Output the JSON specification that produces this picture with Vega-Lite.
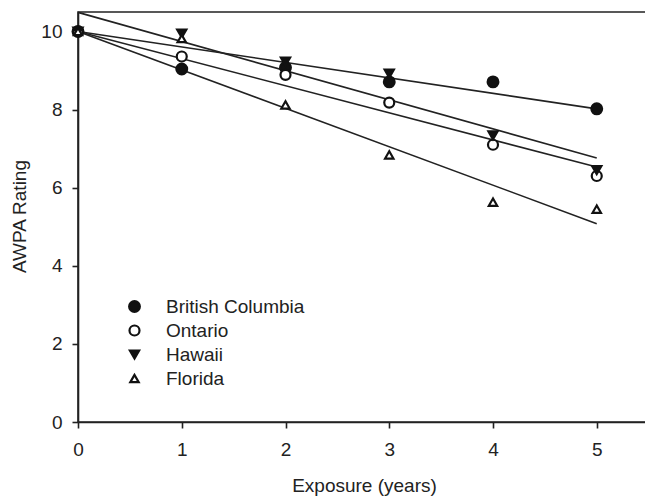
{
  "$schema": "https://vega.github.io/schema/vega-lite/v6.json",
  "width": 581,
  "height": 410,
  "autosize": {"type": "none"},
  "padding": {"left": 78, "top": 12, "right": 0, "bottom": 74},
  "background": "white",
  "config": {
    "font": "Liberation Sans",
    "view": {"stroke": "#222", "strokeWidth": 1.6},
    "axis": {
      "domainColor": "#222", "domainWidth": 1.6,
      "tickColor": "#222", "tickWidth": 1.6, "tickSize": 6,
      "labelFontSize": 19, "labelColor": "#222",
      "titleFontSize": 19, "titleFontWeight": "normal", "titleColor": "#222",
      "grid": false
    },
    "legend": {
      "orient": "none", "legendX": 47, "legendY": 285,
      "labelFontSize": 19, "labelColor": "#222",
      "rowPadding": 4, "symbolOffset": 0, "labelOffset": 22, "padding": 0,
      "symbolStrokeColor": "#111", "symbolStrokeWidth": 2.2
    }
  },
  "datasets": {
    "points": [
      {"site": "British Columbia", "year": 0, "rating": 10},
      {"site": "British Columbia", "year": 1, "rating": 9.04},
      {"site": "British Columbia", "year": 2, "rating": 9.08},
      {"site": "British Columbia", "year": 3, "rating": 8.71},
      {"site": "British Columbia", "year": 4, "rating": 8.71},
      {"site": "British Columbia", "year": 5, "rating": 8.02},
      {"site": "Ontario", "year": 0, "rating": 10},
      {"site": "Ontario", "year": 1, "rating": 9.36},
      {"site": "Ontario", "year": 2, "rating": 8.89},
      {"site": "Ontario", "year": 3, "rating": 8.18},
      {"site": "Ontario", "year": 4, "rating": 7.1},
      {"site": "Ontario", "year": 5, "rating": 6.3},
      {"site": "Hawaii", "year": 0, "rating": 10},
      {"site": "Hawaii", "year": 1, "rating": 9.95},
      {"site": "Hawaii", "year": 2, "rating": 9.23},
      {"site": "Hawaii", "year": 3, "rating": 8.92},
      {"site": "Hawaii", "year": 4, "rating": 7.34},
      {"site": "Hawaii", "year": 5, "rating": 6.45},
      {"site": "Florida", "year": 0, "rating": 10},
      {"site": "Florida", "year": 1, "rating": 9.82},
      {"site": "Florida", "year": 2, "rating": 8.12},
      {"site": "Florida", "year": 3, "rating": 6.84},
      {"site": "Florida", "year": 4, "rating": 5.63},
      {"site": "Florida", "year": 5, "rating": 5.45}
    ],
    "fits": [
      {"site": "British Columbia", "year": 0, "rating": 10},
      {"site": "British Columbia", "year": 5, "rating": 8.02},
      {"site": "Ontario", "year": 0, "rating": 10},
      {"site": "Ontario", "year": 5, "rating": 6.53},
      {"site": "Hawaii", "year": 0, "rating": 10.49},
      {"site": "Hawaii", "year": 5, "rating": 6.76},
      {"site": "Florida", "year": 0, "rating": 10},
      {"site": "Florida", "year": 5, "rating": 5.08}
    ]
  },
  "encoding": {
    "x": {
      "field": "year", "type": "quantitative",
      "scale": {"domain": [0, 5.6], "nice": false, "zero": false},
      "axis": {"values": [0, 1, 2, 3, 4, 5], "labelPadding": 12, "labelFlush": false, "title": "Exposure (years)",
               "titleX": 286, "titleY": 54, "titleBaseline": "top", "titleAlign": "center"}
    },
    "y": {
      "field": "rating", "type": "quantitative",
      "scale": {"domain": [0, 10.5], "nice": false},
      "axis": {"values": [0, 2, 4, 6, 8, 10], "labelPadding": 10, "labelFlush": false, "title": "AWPA Rating",
               "titleX": -49, "titleY": 204, "titleBaseline": "bottom", "titleAlign": "center", "titleAngle": -90}
    }
  },
  "layer": [
    {
      "data": {"name": "fits"},
      "mark": {"type": "line", "stroke": "#222", "strokeWidth": 1.6},
      "encoding": {"detail": {"field": "site"}}
    },
    {
      "data": {"name": "points"},
      "mark": {"type": "point", "filled": true, "strokeWidth": 2.2, "opacity": 1},
      "encoding": {
        "shape": {
          "field": "site", "type": "nominal", "title": null,
          "scale": {"domain": ["British Columbia", "Ontario", "Hawaii", "Florida"],
                    "range": ["circle", "circle", "triangle-down", "triangle-up"]}
        },
        "fill": {
          "field": "site", "type": "nominal", "title": null,
          "scale": {"domain": ["British Columbia", "Ontario", "Hawaii", "Florida"],
                    "range": ["#111", "white", "#111", "white"]}
        },
        "stroke": {
          "field": "site", "type": "nominal", "title": null,
          "scale": {"domain": ["British Columbia", "Ontario", "Hawaii", "Florida"],
                    "range": ["#111", "#111", "#111", "#111"]}
        },
        "size": {
          "field": "site", "type": "nominal", "title": null,
          "scale": {"domain": ["British Columbia", "Ontario", "Hawaii", "Florida"],
                    "range": [115, 70, 140, 125]}
        }
      }
    }
  ]
}
